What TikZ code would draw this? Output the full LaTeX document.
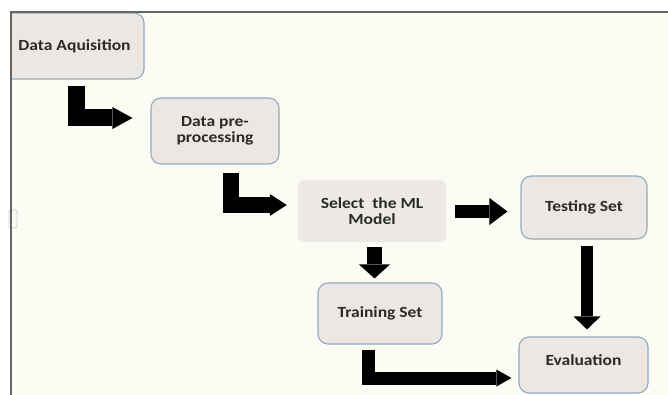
\documentclass[tikz,border=0pt]{standalone}
\usepackage{fontspec}
\setmainfont{Carlito}[FakeStretch=1.13]
\usetikzlibrary{arrows.meta,calc}
\definecolor{bg}{HTML}{FCFCF5}
\definecolor{boxfill}{HTML}{ECE7E2}
\definecolor{selfill}{HTML}{EDE9E4}
\definecolor{boxline}{HTML}{8FAAC2}
\definecolor{txt}{HTML}{2A2A2A}
\definecolor{framec}{HTML}{666666}
\tikzset{
  stepbox/.style={draw=boxline, line width=1.1pt, fill=boxfill, rounded corners=10pt,
    align=center, inner sep=0pt, text=txt},
  plainbox/.style={fill=selfill, rounded corners=6pt, align=center, inner sep=0pt, text=txt},
  blk/.style={draw=black, line width=#1, line join=miter, line cap=butt},
}
\begin{document}
\begin{tikzpicture}[x=1pt, y=-1pt, font=\fontsize{15.5}{16.5}\selectfont\bfseries]
\useasboundingbox[fill=white] (0,0) rectangle (668,395);
\fill[bg] (11,12) rectangle (668,395);
\begin{scope}
\clip (11,12) rectangle (668,395);
\node[stepbox, minimum width=148pt, minimum height=66pt] (acq) at (70,46) {\hspace*{9pt}Data Aquisition};
\end{scope}
\node[stepbox, minimum width=128pt, minimum height=66pt] (prep) at (215,131) {Data pre-\\processing};
\node[plainbox, minimum width=148pt, minimum height=62pt] (sel) at (372,211) {Select\ \ the ML\\Model};
\node[stepbox, minimum width=126pt, minimum height=63pt] (test) at (584,207.5) {Testing Set};
\node[stepbox, minimum width=124pt, minimum height=61pt] (train) at (380,313.5) {Training Set};
\node[stepbox, minimum width=129pt, minimum height=56pt] (eval) at (583.5,365) {\raisebox{9pt}{Evaluation}};

\draw[blk=17pt, -{Triangle[width=22pt,length=20pt,line width=0pt]}]
  ($(acq.south)+(6.5,6)$) |- ($(prep.west)+(-18,-13)$);
\draw[blk=16pt, -{Triangle[width=22pt,length=17pt,line width=0pt]}]
  ($(prep.south)+(15.5,8)$) |- ($(sel.west)+(-11,-6)$);
\draw[blk=13pt, -{Triangle[width=27pt,length=18pt,line width=0pt]}]
  ($(sel.east)+(9,0.5)$) -- ($(sel.east -| test.west)+(-13,0.5)$);
\draw[blk=15pt, -{Triangle[width=31pt,length=14pt,line width=0pt]}]
  ($(sel.south)+(2.5,5)$) -- ($(sel.south |- train.north)+(2.5,-4)$);
\draw[blk=12pt, -{Triangle[width=27pt,length=13pt,line width=0pt]}]
  ($(test.south)+(3,6)$) -- ($(test.south |- eval.north)+(3,-7)$);
\draw[blk=13pt, -{Triangle[width=17pt,length=15pt,line width=0pt]}]
  ($(train.south)+(-11.5,5)$) |- ($(eval.west)+(-7,13)$);

\draw[gray!40, line width=0.8pt, rounded corners=2pt] (9,210) rectangle (17,228);
\draw[framec, line width=1.2pt] (11,395) -- (11,12) -- (668,12);
\end{tikzpicture}
\end{document}
